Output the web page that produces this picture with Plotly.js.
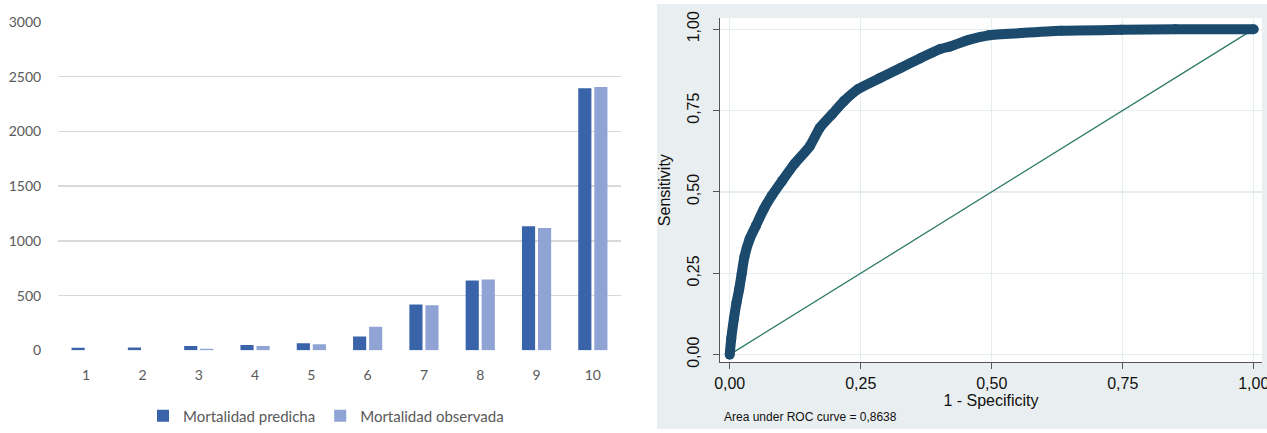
<!DOCTYPE html>
<html>
<head>
<meta charset="utf-8">
<script src="https://cdn.plot.ly/plotly-3.0.1.min.js"></script>
<style>html,body{margin:0;padding:0;background:#fff}#chart{width:1267px;height:433px}</style>
</head>
<body>
<div id="chart"></div>
<script>
// ---- Left chart: deciles ----
const deciles = ['1','2','3','4','5','6','7','8','9','10'];
const predicha = [24, 27, 39, 48, 64, 127, 418, 639, 1133, 2395];
const observada = [0, 0, 15, 39, 55, 215, 412, 648, 1118, 2405];
const barYTicks = [0, 500, 1000, 1500, 2000, 2500, 3000];
const barYTickText = ['0', '500', '1000', '1500', '2000', '2500', '3000'];
const seriesNames = ['Mortalidad predicha', 'Mortalidad observada'];

// ---- Right chart: ROC ----
const fpr = [0, 0.003, 0.008, 0.013, 0.018, 0.023, 0.028, 0.038, 0.05, 0.065, 0.08, 0.10, 0.123, 0.153, 0.172, 0.195, 0.218, 0.245, 0.287, 0.326, 0.364, 0.402, 0.421, 0.456, 0.494, 0.556, 0.632, 0.747, 0.85, 1];
const tpr = [0, 0.05, 0.11, 0.16, 0.20, 0.25, 0.30, 0.355, 0.396, 0.447, 0.488, 0.534, 0.585, 0.641, 0.697, 0.738, 0.779, 0.816, 0.85, 0.881, 0.911, 0.939, 0.947, 0.967, 0.981, 0.988, 0.995, 0.998, 1.0, 1.0];
const refX = [0, 1];
const refY = [0, 1];
const rocTicks = [0, 0.25, 0.5, 0.75, 1];
const rocTickText = ['0,00', '0,25', '0,50', '0,75', '1,00'];
const rocXTitle = '1 - Specificity';
const rocYTitle = 'Sensitivity';
const aucNote = 'Area under ROC curve = 0,8638';

const W = 1267, H = 433;
const px = v => v / W;
const py = v => (H - v) / H;

const leftFont = {family: 'Lato, "Open Sans", sans-serif', size: 14, color: '#595959'};
const rightFont = {family: '"Liberation Sans", Arial, sans-serif', size: 16, color: '#111'};

const traces = [
  {type: 'bar', x: deciles, y: predicha, name: seriesNames[0], marker: {color: '#3a64aa'}, xaxis: 'x', yaxis: 'y', hoverinfo: 'none'},
  {type: 'bar', x: deciles, y: observada, name: seriesNames[1], marker: {color: '#8fa4d5'}, xaxis: 'x', yaxis: 'y', hoverinfo: 'none'},
  {type: 'scatter', mode: 'lines', x: refX, y: refY, xaxis: 'x2', yaxis: 'y2', showlegend: false,
   line: {color: '#2f7a68', width: 1.3}, hoverinfo: 'none'},
  {type: 'scatter', mode: 'lines+markers', x: fpr, y: tpr, xaxis: 'x2', yaxis: 'y2', showlegend: false,
   line: {color: '#1b4a6d', width: 10, shape: 'spline', smoothing: 0.6},
   marker: {color: '#1b4a6d', size: 10}, hoverinfo: 'none'}
];

const layout = {
  width: W, height: H,
  margin: {l: 0, r: 0, t: 0, b: 0},
  paper_bgcolor: '#ffffff',
  plot_bgcolor: '#ffffff',
  showlegend: true,
  barmode: 'group',
  bargap: 0.43,
  bargroupgap: 0.18,
  legend: {orientation: 'h', x: px(326), xanchor: 'center', y: py(418), yanchor: 'middle',
           font: {family: 'Lato, "Open Sans", sans-serif', size: 15, color: '#595959'},
           bgcolor: 'rgba(0,0,0,0)'},
  xaxis: {domain: [px(58), px(621)], type: 'category', showgrid: false, zeroline: false, showline: false,
          ticks: 'outside', ticklen: 12, tickcolor: 'rgba(0,0,0,0)', tickfont: leftFont, fixedrange: true},
  yaxis: {domain: [py(352), py(22)], range: [0, 3000], tickvals: barYTicks, ticktext: barYTickText,
          showgrid: true, gridcolor: '#d9d9d9', gridwidth: 1.3, zeroline: false, showline: false,
          ticks: 'outside', ticklen: 13, tickcolor: 'rgba(0,0,0,0)', tickfont: leftFont, fixedrange: true},
  xaxis2: {domain: [px(720), px(1262)], range: [-0.0185, 1.0158], tickvals: rocTicks, ticktext: rocTickText,
           anchor: 'y2', showgrid: true, gridcolor: '#e6edef', gridwidth: 1.3, zeroline: false,
           showline: true, linecolor: '#555', linewidth: 1, ticks: 'outside', ticklen: 6, tickcolor: '#555',
           ticklabeloverflow: 'allow',
           tickfont: rightFont, title: {text: rocXTitle, font: rightFont, standoff: 2}, fixedrange: true},
  yaxis2: {domain: [py(364), py(18)], range: [-0.0235, 1.0346], tickvals: rocTicks, ticktext: rocTickText,
           anchor: 'x2', showgrid: true, gridcolor: '#e6edef', gridwidth: 1.3, zeroline: false,
           showline: true, linecolor: '#555', linewidth: 1, ticks: 'outside', ticklen: 6, tickcolor: '#555',
           ticklabelstandoff: 8,
           tickangle: -90, tickfont: rightFont, title: {text: rocYTitle, font: rightFont, standoff: 9}, fixedrange: true},
  shapes: [
    {type: 'rect', xref: 'paper', yref: 'paper', x0: px(657), x1: 1, y0: py(431), y1: py(4),
     fillcolor: '#e9eff0', line: {width: 0}, layer: 'below'},
    {type: 'rect', xref: 'paper', yref: 'paper', x0: px(720), x1: px(1262), y0: py(364), y1: py(18),
     fillcolor: '#ffffff', line: {width: 0}, layer: 'below'}
  ],
  annotations: [
    {xref: 'paper', yref: 'paper', x: px(722), y: py(419), xanchor: 'left', yanchor: 'middle',
     text: aucNote, showarrow: false, font: {family: '"Liberation Sans", Arial, sans-serif', size: 12, color: '#111'}}
  ]
};

Plotly.newPlot('chart', traces, layout, {displayModeBar: false, staticPlot: true});
</script>
</body>
</html>
